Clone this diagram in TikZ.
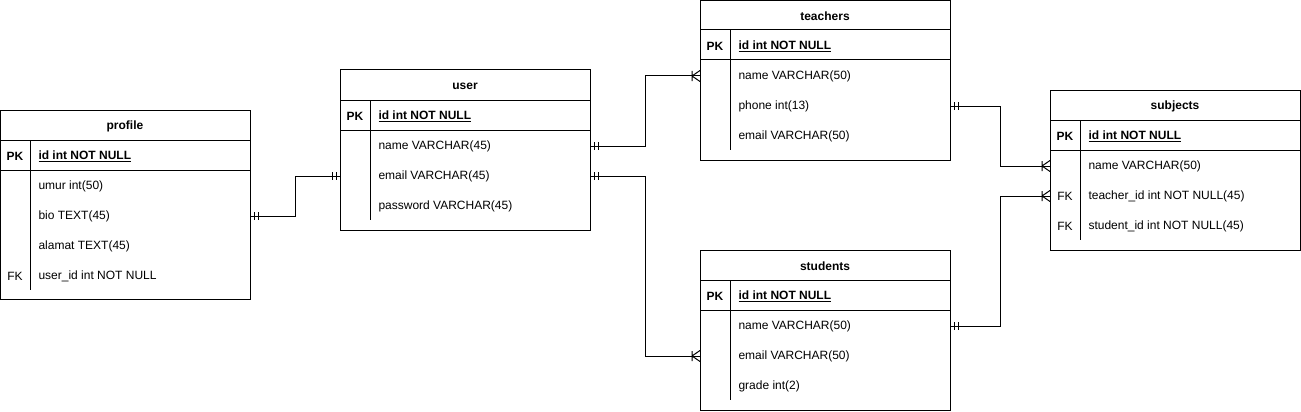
\documentclass[tikz,border=0pt]{standalone}
\usepackage{fontspec}
\setmainfont{Liberation Sans}
\tikzset{
  tbl/.style={draw, minimum width=250pt, outer sep=0pt, inner sep=0pt, anchor=north west},
  hdr/.style={font=\fontsize{12}{14}\selectfont\bfseries, inner sep=0pt, yshift=-1pt},
  key/.style={font=\fontsize{12}{14}\selectfont, inner sep=0pt, yshift=-1pt},
  fld/.style={font=\fontsize{12}{14}\selectfont, anchor=west, inner sep=0pt, yshift=-1pt},
  one/.pic={\draw (-4,-4) -- (-4,4) (-8,-4) -- (-8,4);},
  many/.pic={\draw (-8,-5) -- (-8,5) (-8,0) -- (0,-5.5) (-8,0) -- (0,5.5);},
}
\newcommand{\pkfield}[1]{\textbf{\underline{#1}}}
\begin{document}
\begin{tikzpicture}[x=1pt, y=-1pt, line width=1pt]
			\useasboundingbox (0,0) rectangle (1301,412);
			% profile
			\node[tbl, minimum height=189pt] (profile) at (0.5,110) {};
			\node[hdr] (profile-t) at (125,125) {profile};
			\draw (0.5,140) -- (250,140) (0.5,170) -- (250,170) (30,140) -- (30,290);
			\node[key] at (15,155) {\textbf{PK}};
			\node[fld] (profile-id) at (38,155) {\pkfield{id int NOT NULL}};
			\node[fld] (profile-umur) at (38,185) {umur int(50)};
			\node[fld] (profile-bio) at (38,215) {bio TEXT(45)};
			\node[fld] (profile-alamat) at (38,245) {alamat TEXT(45)};
			\node[key] at (15,275) {FK};
			\node[fld] (profile-user) at (38,275) {user\_id int NOT NULL};
			% user
			\node[tbl, minimum height=160pt] (user) at (340,70) {};
			\node[hdr] (user-t) at (465,85) {user};
			\draw (340,100) -- (590,100) (340,130) -- (590,130) (370,100) -- (370,220);
			\node[key] at (355,115) {\textbf{PK}};
			\node[fld] (user-id) at (378,115) {\pkfield{id int NOT NULL}};
			\node[fld] (user-name) at (378,145) {name VARCHAR(45)};
			\node[fld] (user-email) at (378,175) {email VARCHAR(45)};
			\node[fld] (user-pass) at (378,205) {password VARCHAR(45)};
			% teachers
			\node[tbl, minimum height=159pt] (teachers) at (700,1) {};
			\node[hdr] (teachers-t) at (825,15.5) {teachers};
			\draw (700,30) -- (950,30) (700,60) -- (950,60) (730,30) -- (730,150);
			\node[key] at (715,45) {\textbf{PK}};
			\node[fld] (teachers-id) at (738,45) {\pkfield{id int NOT NULL}};
			\node[fld] (teachers-name) at (738,75) {name VARCHAR(50)};
			\node[fld] (teachers-phone) at (738,105) {phone int(13)};
			\node[fld] (teachers-email) at (738,135) {email VARCHAR(50)};
			% students
			\node[tbl, minimum height=160pt] (students) at (700,250) {};
			\node[hdr] (students-t) at (825,265) {students};
			\draw (700,280) -- (950,280) (700,310) -- (950,310) (730,280) -- (730,400);
			\node[key] at (715,295) {\textbf{PK}};
			\node[fld] (students-id) at (738,295) {\pkfield{id int NOT NULL}};
			\node[fld] (students-name) at (738,325) {name VARCHAR(50)};
			\node[fld] (students-email) at (738,355) {email VARCHAR(50)};
			\node[fld] (students-grade) at (738,385) {grade int(2)};
			% subjects
			\node[tbl, minimum height=160pt] (subjects) at (1050,90) {};
			\node[hdr] (subjects-t) at (1175,105) {subjects};
			\draw (1050,120) -- (1300,120) (1050,150) -- (1300,150) (1080,120) -- (1080,240);
			\node[key] at (1065,135) {\textbf{PK}};
			\node[fld] (subjects-id) at (1088,135) {\pkfield{id int NOT NULL}};
			\node[fld] (subjects-name) at (1088,165) {name VARCHAR(50)};
			\node[key] at (1065,195) {FK};
			\node[fld] (subjects-teacher) at (1088,195) {teacher\_id int NOT NULL(45)};
			\node[key] at (1065,225) {FK};
			\node[fld] (subjects-student) at (1088,225) {student\_id int NOT NULL(45)};
			% relations
			\draw (profile.east |- profile-bio) -- ++(45,0) |- (user.west |- user-email);
			\draw (user.east |- user-name) -- ++(55,0) |- (teachers.west |- teachers-name);
			\draw (user.east |- user-email) -- ++(55,0) |- (students.west |- students-email);
			\draw (teachers.east |- teachers-phone) -- ++(50,0) |- (subjects.west |- subjects-name);
			\draw (students.east |- students-name) -- ++(50,0) |- (subjects.west |- subjects-teacher);
			\path (profile.east |- profile-bio) pic[xscale=-1] {one}
			      (user.west |- user-email) pic {one}
			      (user.east |- user-name) pic[xscale=-1] {one}
			      (user.east |- user-email) pic[xscale=-1] {one}
			      (teachers.west |- teachers-name) pic {many}
			      (students.west |- students-email) pic {many}
			      (teachers.east |- teachers-phone) pic[xscale=-1] {one}
			      (students.east |- students-name) pic[xscale=-1] {one}
			      (subjects.west |- subjects-name) pic {many}
			      (subjects.west |- subjects-teacher) pic {many};
		\end{tikzpicture}
\end{document}
